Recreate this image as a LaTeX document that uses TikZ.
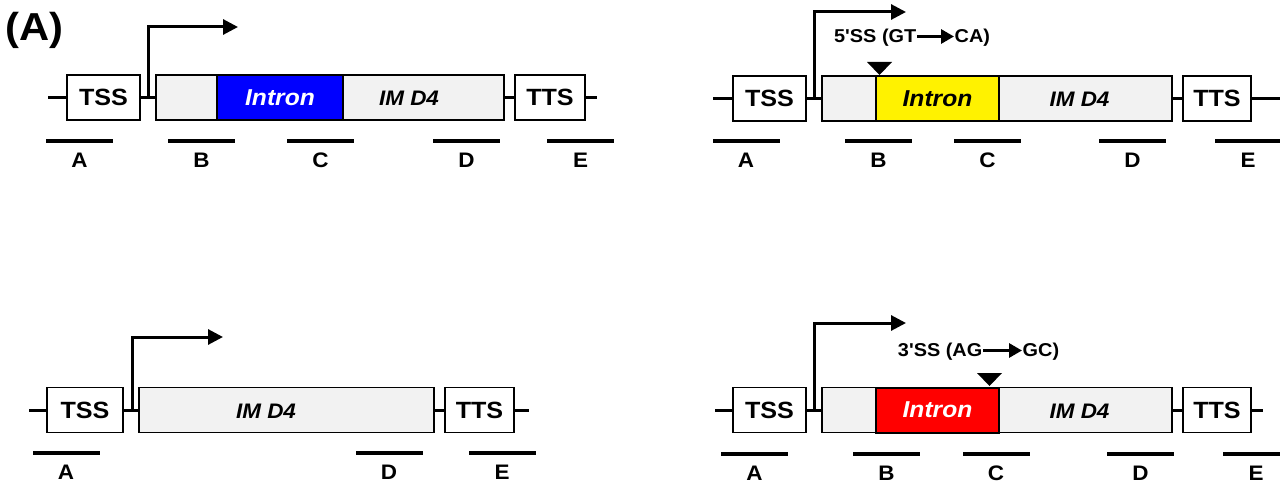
\documentclass[tikz,border=0pt]{standalone}
\usepackage{fontspec}
\setmainfont{Liberation Sans}[FakeStretch=1.07,Ligatures=TeXOff]
\usetikzlibrary{positioning,arrows.meta}
\definecolor{genegray}{RGB}{242,242,242}

\begin{document}
\begin{tikzpicture}[x=1pt,y=-1pt,
	elem/.style={draw,fill=white,line width=1.3pt,minimum height=45,inner sep=0,font=\fontsize{23.5}{24}\selectfont\bfseries},
	gene/.style={draw,fill=genegray,line width=1.3pt,minimum height=45,inner sep=0},
	intron/.style={draw,line width=2pt,minimum height=45,inner sep=0,font=\fontsize{23}{24}\selectfont\bfseries\itshape},
	genename/.style={inner sep=0,font=\fontsize{21}{22}\selectfont\bfseries\itshape},
	dna/.style={line width=3pt},
	promo/.style={line width=3pt,-{Triangle[length=15pt,width=15pt]}},
	probe/.style={fill=black,inner sep=0,minimum width=67,minimum height=4},
	every label/.style={inner sep=0,yshift=-9.5pt,font=\fontsize{21}{22}\selectfont\bfseries},
	ss/.style={inner sep=0.5pt,font=\fontsize{18.6}{20}\selectfont\bfseries},
	mut/.style={line width=3pt,-{Triangle[length=13pt,width=14pt]}}]
	\useasboundingbox (0,0) rectangle (1280,484);
	\node (panel) at (34.5,30) [font=\fontsize{39}{40}\selectfont\bfseries] {(A)};

	% wild type
	\coordinate (l1) at (48,97.5);
	\coordinate (r1) at (597,97.5);
	\node (tss1) [elem,minimum width=73] at (103.5,97.5) {TSS};
	\node (gene1) [gene,minimum width=348] at (330,97.5) {};
	\node (intr1) [intron,fill=blue,text=white,minimum width=126] at (280,97.5) {Intron};
	\node (name1) [genename] at (409,98.5) {IM\kern0.3em D4};
	\node (tts1) [elem,minimum width=70] at (550,97.5) {TTS};
	\draw[dna] (l1) -- (tss1) (tss1) -- (gene1) (gene1) -- (tts1) (tts1) -- (r1);
	\coordinate (p1) at (148,97.5);
	\coordinate (q1) at (238,27);
	\draw[promo] (p1) |- (q1);
	\node (a1) [probe,label=below:A] at (79.5,141) {};
	\node (b1) [probe,label=below:B] at (201.5,141) {};
	\node (c1) [probe,label=below:C] at (320.5,141) {};
	\node (d1) [probe,label=below:D] at (466.5,141) {};
	\node (e1) [probe,label=below:E] at (580.5,141) {};

	% 5' splice site mutant
	\coordinate (l2) at (713,98.5);
	\coordinate (r2) at (1280,98.5);
	\node (tss2) [elem,minimum width=73] at (769.5,98.5) {TSS};
	\node (gene2) [gene,minimum width=350] at (997,98.5) {};
	\node (intr2) [intron,line width=1.3pt,fill=yellow,minimum width=123] at (937.5,98.5) {Intron};
	\node (name2) [genename] at (1079.5,99.5) {IM\kern0.3em D4};
	\node (tts2) [elem,minimum width=68] at (1217,98.5) {TTS};
	\draw[dna] (l2) -- (tss2) (tss2) -- (gene2) (gene2) -- (tts2) (tts2) -- (r2);
	\coordinate (p2) at (814,98.5);
	\coordinate (q2) at (906,12);
	\draw[promo] (p2) |- (q2);
	\fill (879.5,75) -- ++(-12.5,-13) -- ++(25,0) -- cycle;
	\node (gt2) [ss,anchor=east] at (917,38) {5'SS (GT};
	\node (ca2) [ss,right=37pt of gt2] {CA)};
	\draw[mut] ([yshift=1.5pt]gt2.east) -- ([yshift=1.5pt]ca2.west);
	\node (a2) [probe,label=below:A] at (746,141) {};
	\node (b2) [probe,label=below:B] at (878.5,141) {};
	\node (c2) [probe,label=below:C] at (987.5,141) {};
	\node (d2) [probe,label=below:D] at (1132.5,141) {};
	\node (e2) [probe,label=below:E] at (1248,141) {};

	% intronless
	\coordinate (l3) at (29,410);
	\coordinate (r3) at (529,410);
	\node (tss3) [elem,minimum width=76] at (85,410) {TSS};
	\node (gene3) [gene,minimum width=295] at (286.5,410) {};
	\node (name3) [genename] at (266,411) {IM\kern0.3em D4};
	\node (tts3) [elem,minimum width=69] at (479.5,410) {TTS};
	\draw[dna] (l3) -- (tss3) (tss3) -- (gene3) (gene3) -- (tts3) (tts3) -- (r3);
	\coordinate (p3) at (132,410);
	\coordinate (q3) at (223,337);
	\draw[promo] (p3) |- (q3);
	\node (a3) [probe,label=below:A] at (66,453) {};
	\node (d3) [probe,label=below:D] at (389,453) {};
	\node (e3) [probe,label=below:E] at (502,453) {};

	% 3' splice site mutant
	\coordinate (l4) at (715,410);
	\coordinate (r4) at (1263,410);
	\node (tss4) [elem,minimum width=73] at (769.5,410) {TSS};
	\node (gene4) [gene,minimum width=350] at (997,410) {};
	\node (intr4) [intron,fill=red,text=white,minimum width=123] at (937.5,410) {Intron};
	\node (name4) [genename] at (1079.5,411) {IM\kern0.3em D4};
	\node (tts4) [elem,minimum width=68] at (1217,410) {TTS};
	\draw[dna] (l4) -- (tss4) (tss4) -- (gene4) (gene4) -- (tts4) (tts4) -- (r4);
	\coordinate (p4) at (814,410);
	\coordinate (q4) at (906,323);
	\draw[promo] (p4) |- (q4);
	\fill (989.5,386) -- ++(-12.5,-13) -- ++(25,0) -- cycle;
	\node (ag4) [ss,anchor=east] at (983,352) {3'SS (AG};
	\node (gc4) [ss,right=39pt of ag4] {GC)};
	\draw[mut] ([yshift=1.5pt]ag4.east) -- ([yshift=1.5pt]gc4.west);
	\node (a4) [probe,label=below:A] at (754.5,454) {};
	\node (b4) [probe,label=below:B] at (886.5,454) {};
	\node (c4) [probe,label=below:C] at (996,454) {};
	\node (d4) [probe,label=below:D] at (1140.5,454) {};
	\node (e4) [probe,label=below:E] at (1256,454) {};
\end{tikzpicture}
\end{document}
